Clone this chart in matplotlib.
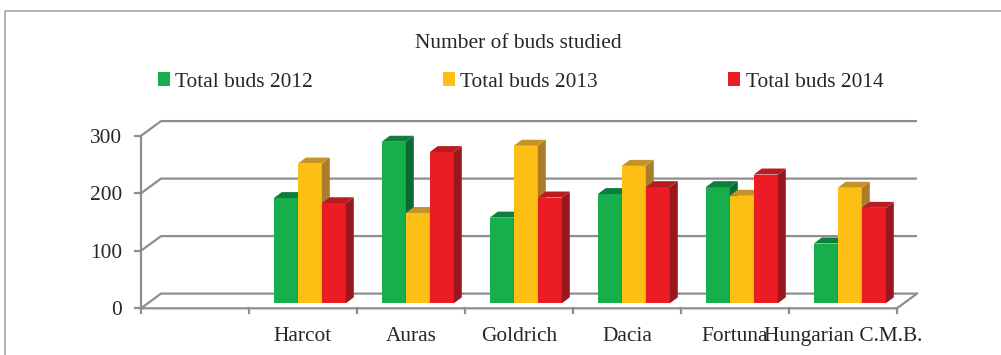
import matplotlib
matplotlib.use("Agg")
import matplotlib.pyplot as plt
from matplotlib.patches import Polygon
from matplotlib.lines import Line2D

plt.rcParams['font.family'] = ['Liberation Serif', 'DejaVu Serif']

categories = ["", "Harcot", "Auras", "Goldrich", "Dacia", "Fortuna", "Hungarian C.M.B."]
series_names = ["Total buds 2012", "Total buds 2013", "Total buds 2014"]
buds_2012 = [None, 183, 281, 149, 190, 202, 104]
buds_2013 = [None, 243, 157, 274, 239, 187, 201]
buds_2014 = [None, 174, 263, 184, 202, 224, 166]
yticks = [0, 100, 200, 300]

front_cols = ["#17AF4B", "#FDBF13", "#EC1C24"]
side_cols = ["#0B6A33", "#A97D2A", "#9A181D"]
top_cols = ["#0D7E3B", "#C4932C", "#B81C22"]
grid_col = "#8E8E8E"
text_col = "#262626"

W, H = 1001, 355
fig = plt.figure(figsize=(W / 100, H / 100), dpi=100)
ax = fig.add_axes([0, 0, 1, 1])
ax.axis('off')

# pixel mapping: x=0 at px 141, 108 px per category; y=0 at px 308.3, 0.575 px per unit
x0, cw = 141, 108
y0, sc = 308.3, 0.575
ax.set_xlim(-x0 / cw, (W - x0) / cw)
ax.set_ylim((y0 - H) / sc, y0 / sc)

DX, DY = 20 / cw, 14.7 / sc          # depth of the walls
frac = 0.34                          # depth where the bars stand
bdx, bdy = 8 / cw, 10.4              # depth of a bar
ncat = len(categories)

# walls / gridlines
for v in yticks:
    ax.plot([0, DX, ncat + DX], [v, v + DY, v + DY], color=grid_col, lw=1.6, zorder=1,
            solid_capstyle='butt')
    ax.plot([0, -6 / cw], [v, v], color=grid_col, lw=1.6, zorder=1)
    ax.text(-19 / cw, v - 7 / sc, str(v), ha='right', va='baseline', fontsize=15.4, color=text_col)
ax.plot([0, 0], [0, yticks[-1]], color=grid_col, lw=1.6, zorder=1)
ax.plot([0, ncat, ncat + DX], [0, 0, DY], color=grid_col, lw=1.6, zorder=1)
for i in range(ncat + 1):
    ax.plot([i, i], [0, -5 / sc], color=grid_col, lw=1.6, zorder=1)

for i, c in enumerate(categories):
    ax.text(i + 0.5, -57.5, c, ha='center', va='baseline', fontsize=15.4, color=text_col)

# bars
w = 24 / cw
sx, sy = frac * DX, frac * DY
handles = []
z = 2
for i in range(ncat):
    for j, vals in enumerate([buds_2012, buds_2013, buds_2014]):
        v = vals[i]
        if v is None:
            continue
        x = i + 0.5 - 1.5 * w + j * w + sx
        b = ax.bar(x, v, width=w, bottom=sy, align='edge', color=front_cols[j],
                   edgecolor='none', zorder=z)
        side = Polygon([(x + w, sy), (x + w + bdx, sy + bdy), (x + w + bdx, sy + v + bdy),
                        (x + w, sy + v)], closed=True, facecolor=side_cols[j],
                       edgecolor='none', zorder=z)
        top = Polygon([(x, sy + v), (x + bdx, sy + v + bdy), (x + w + bdx, sy + v + bdy),
                       (x + w, sy + v)], closed=True, facecolor=top_cols[j],
                      edgecolor='none', zorder=z)
        ax.add_patch(side)
        ax.add_patch(top)
        z += 1

# title and legend
fig.text(518.5 / W, 1 - 47.5 / H, "Number of buds studied", ha='center', va='baseline',
         fontsize=15.4, color=text_col)
leg_handles = [plt.Rectangle((0, 0), 1, 1, facecolor=c, edgecolor='none') for c in front_cols]
fig.legend(leg_handles, series_names, loc='center', bbox_to_anchor=(520.5 / W, 1 - 82 / H),
           ncol=3, frameon=False, fontsize=15.4, handlelength=0.55, handleheight=0.6,
           handletextpad=0.25, columnspacing=6.1, labelcolor=text_col)

# outer frame
fig.add_artist(Line2D([4.5 / W, 4.5 / W, 1], [0, 1 - 10.7 / H, 1 - 10.7 / H],
                      transform=fig.transFigure, color="#A6A6A6", lw=1.2))

fig.savefig("out.png", dpi=100)
